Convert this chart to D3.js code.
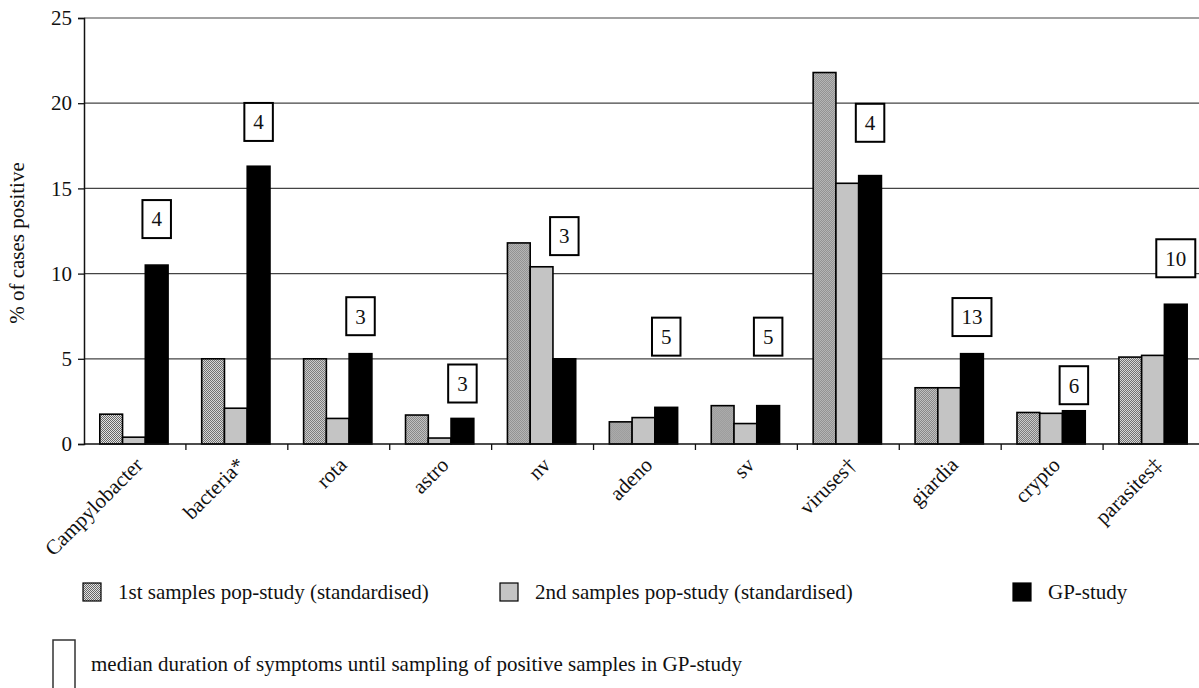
<!DOCTYPE html>
<html lang="en">
<head>
<meta charset="UTF-8">
<title>% of cases positive</title>
<script src="https://cdn.jsdelivr.net/npm/d3@7"></script>
<style>
  body { margin: 0; background: #fff; }
  svg text { font-family: "Liberation Serif", "DejaVu Serif", serif; fill: #111; }
</style>
</head>
<body>
<script>
// values (% of cases positive)
const categories = ["Campylobacter", "bacteria*", "rota", "astro", "nv", "adeno", "sv", "viruses\u2020", "giardia", "crypto", "parasites\u2021"];
const pop1 = [1.75, 5.0, 5.0, 1.7, 11.8, 1.3, 2.25, 21.8, 3.3, 1.85, 5.1];
const pop2 = [0.4, 2.1, 1.5, 0.35, 10.4, 1.55, 1.2, 15.3, 3.3, 1.8, 5.2];
const gp = [10.5, 16.3, 5.3, 1.5, 5.0, 2.15, 2.25, 15.75, 5.3, 1.95, 8.2];
// median duration (days) shown in the boxes, and the level each box sits at
const medianDays = [4, 4, 3, 3, 3, 5, 5, 4, 13, 6, 10];
const boxLevel = [13.2, 18.9, 7.5, 3.55, 12.2, 6.3, 6.3, 18.85, 7.45, 3.45, 10.9];
const yTicks = [0, 5, 10, 15, 20, 25];
const seriesNames = ["1st samples pop-study (standardised)", "2nd samples pop-study (standardised)", "GP-study"];

const W = 1199, H = 688;
const plotL = 84, plotR = 1205, plotT = 18, plotB = 444;
const fs = 21;

const svg = d3.select("body").append("svg")
  .attr("width", W).attr("height", H);

// fine checkered fill for the first series
const defs = svg.append("defs");
const pat = defs.append("pattern")
  .attr("id", "hatch")
  .attr("width", 2).attr("height", 2)
  .attr("patternUnits", "userSpaceOnUse");
pat.append("rect").attr("width", 2).attr("height", 2).attr("fill", "#e2e2e2");
pat.append("rect").attr("width", 1).attr("height", 1).attr("fill", "#666");
pat.append("rect").attr("x", 1).attr("y", 1).attr("width", 1).attr("height", 1).attr("fill", "#666");

const fills = ["url(#hatch)", "#c4c4c4", "#000"];

const x = d3.scaleBand().domain(categories).range([plotL, plotR]).padding(0);
const bw = x.bandwidth();
const xs = d3.scaleBand().domain([0, 1, 2]).range([bw * 0.155, bw * 0.825]).padding(0);
const y = d3.scaleLinear().domain([0, 25]).range([plotB, plotT]);

// gridlines
svg.append("g")
  .selectAll("line")
  .data(yTicks.filter(d => d > 0))
  .join("line")
  .attr("x1", plotL).attr("x2", plotR)
  .attr("y1", d => y(d)).attr("y2", d => y(d))
  .attr("stroke", "#444").attr("stroke-width", 1.2);

// y axis
const yAxis = svg.append("g")
  .attr("transform", `translate(${plotL},0)`)
  .call(d3.axisLeft(y).tickValues(yTicks).tickSize(6).tickPadding(6));
yAxis.attr("font-family", null).attr("font-size", null);
yAxis.select(".domain").attr("stroke", "#111").attr("stroke-width", 1.5);
yAxis.selectAll(".tick line").attr("stroke", "#111").attr("stroke-width", 1.3);
yAxis.selectAll(".tick text").attr("font-size", fs).attr("fill", "#111");

svg.append("text")
  .attr("transform", `translate(24,${(plotT + plotB) / 2 + 12}) rotate(-90)`)
  .attr("text-anchor", "middle")
  .attr("font-size", fs)
  .text("% of cases positive");

// bars
const series = [pop1, pop2, gp];
const groups = svg.append("g").selectAll("g")
  .data(categories)
  .join("g")
  .attr("transform", d => `translate(${x(d)},0)`);

groups.selectAll("rect")
  .data((d, i) => series.map((s, k) => ({ k, v: s[i] })))
  .join("rect")
  .attr("x", d => xs(d.k))
  .attr("width", xs.bandwidth())
  .attr("y", d => y(d.v))
  .attr("height", d => y(0) - y(d.v))
  .attr("fill", d => fills[d.k])
  .attr("stroke", "#000")
  .attr("stroke-width", 1.6);

// x axis with ticks between categories
const xAxisG = svg.append("g").attr("transform", `translate(0,${plotB})`);
xAxisG.append("line")
  .attr("x1", plotL).attr("x2", plotR)
  .attr("stroke", "#111").attr("stroke-width", 1.5);
xAxisG.selectAll(".sep")
  .data(categories)
  .join("line")
  .attr("class", "sep")
  .attr("x1", d => x(d) + bw).attr("x2", d => x(d) + bw)
  .attr("y1", 0).attr("y2", 6)
  .attr("stroke", "#111").attr("stroke-width", 1.3);

xAxisG.selectAll(".lab")
  .data(categories)
  .join("text")
  .attr("class", "lab")
  .attr("text-anchor", "end")
  .attr("font-size", fs)
  .attr("transform", d => `translate(${x(d) + bw / 2 + 4},${17}) rotate(-45)`)
  .attr("dy", "0.35em")
  .text(d => d);

// median-duration boxes
const boxes = svg.append("g").selectAll("g")
  .data(categories)
  .join("g")
  .attr("transform", (d, i) => `translate(${x(d) + xs(2) + xs.bandwidth() / 2},${y(boxLevel[i])})`);

boxes.each(function(d, i) {
  const g = d3.select(this);
  const r = g.append("rect");
  const t = g.append("text")
    .attr("text-anchor", "middle")
    .attr("dy", "0.35em")
    .attr("font-size", fs)
    .text(medianDays[i]);
  const tw = t.node().getComputedTextLength() + 18;
  r.attr("x", -tw / 2).attr("y", -19)
    .attr("width", tw).attr("height", 38)
    .attr("fill", "#fff").attr("stroke", "#000").attr("stroke-width", 2);
});

// legend
const legendX = [83, 500, 1013];
const leg = svg.append("g").selectAll("g")
  .data(seriesNames)
  .join("g")
  .attr("transform", (d, i) => `translate(${legendX[i]},583)`);
leg.append("rect")
  .attr("width", 18).attr("height", 18)
  .attr("fill", (d, i) => fills[i])
  .attr("stroke", "#000").attr("stroke-width", 1.2);
leg.append("text")
  .attr("x", 35).attr("y", 9).attr("dy", "0.35em")
  .attr("font-size", fs)
  .text(d => d);

const leg2 = svg.append("g").attr("transform", "translate(53,640)");
leg2.append("rect")
  .attr("width", 22).attr("height", 52)
  .attr("fill", "#fff").attr("stroke", "#333").attr("stroke-width", 1.5);
leg2.append("text")
  .attr("x", 38).attr("y", 24).attr("dy", "0.35em")
  .attr("font-size", fs)
  .text("median duration of symptoms until sampling of positive samples in GP-study");
</script>
</body>
</html>
